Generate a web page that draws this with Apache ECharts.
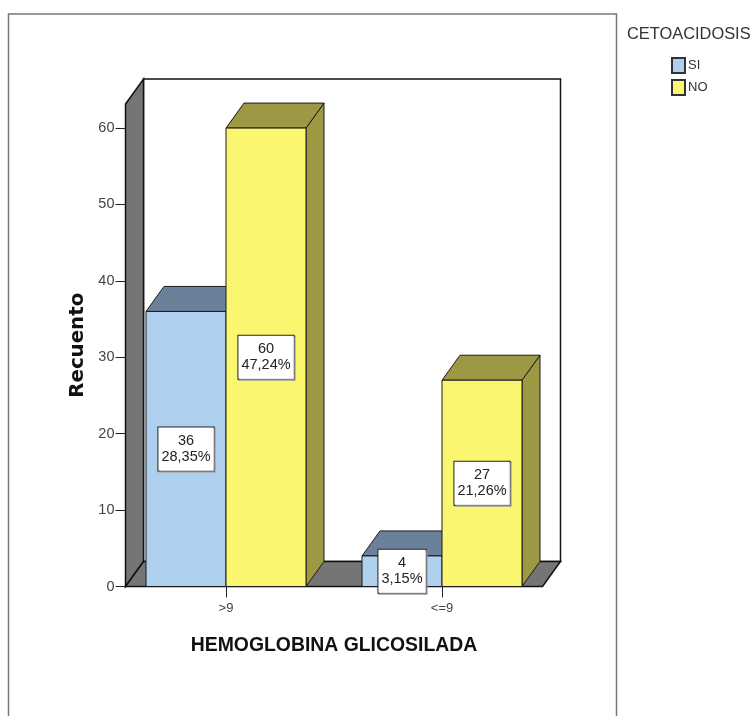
<!DOCTYPE html>
<html>
<head>
<meta charset="utf-8">
<style>
  html, body { margin: 0; padding: 0; background: #fff; overflow: hidden; }
  #chart { width: 755px; height: 716px; }
</style>
<script src="https://cdn.jsdelivr.net/npm/echarts@6/dist/echarts.min.js"></script>
</head>
<body>
<div id="chart"></div>
<script>
const categories = ['>9', '<=9'];
const siCounts = [36, 4];
const noCounts = [60, 27];
const siPercents = ['28,35%', '3,15%'];
const noPercents = ['47,24%', '21,26%'];
const yTicks = [0, 10, 20, 30, 40, 50, 60];

const FONT = '"Liberation Sans", Arial, sans-serif';
const DEPTH_X = 18;
const DEPTH_Y = -25;
const AXIS_INSET = 7.5;
const BAR_RATIO = 80 / 216;

const chart = echarts.init(document.getElementById('chart'));

function walls(params, api) {
  const g = params.coordSys;
  const left = g.x + AXIS_INSET;
  const right = g.x + g.width - AXIS_INSET;
  const bottom = g.y + g.height;
  const top = g.y;
  const line = { stroke: '#111', lineWidth: 1.5 };
  return {
    type: 'group',
    children: [
      {
        type: 'rect',
        shape: { x: left + DEPTH_X, y: top + DEPTH_Y, width: right - left, height: g.height },
        style: { fill: '#fff', ...line }
      },
      {
        type: 'polygon',
        shape: { points: [[left, top], [left + DEPTH_X, top + DEPTH_Y], [left + DEPTH_X, bottom + DEPTH_Y], [left, bottom]] },
        style: { fill: '#757575', ...line }
      },
      {
        type: 'polygon',
        shape: { points: [[left, bottom], [left + DEPTH_X, bottom + DEPTH_Y], [right + DEPTH_X, bottom + DEPTH_Y], [right, bottom]] },
        style: { fill: '#757575', ...line }
      }
    ]
  };
}

// side = -1 draws left of the tick, side = 1 right of it
function bar3d(side, percents, front, shade) {
  return (params, api) => {
    const top = api.coord([api.value(0), api.value(1)]);
    const base = api.coord([api.value(0), 0]);
    const w = api.size([1, 0])[0] * BAR_RATIO;
    const x0 = side < 0 ? top[0] - w : top[0];
    const x1 = x0 + w;
    const line = { stroke: '#1a1a1a', lineWidth: 1 };
    return {
      type: 'group',
      children: [
        {
          type: 'polygon',
          shape: { points: [[x1, base[1]], [x1 + DEPTH_X, base[1] + DEPTH_Y], [x1 + DEPTH_X, top[1] + DEPTH_Y], [x1, top[1]]] },
          style: { fill: shade, ...line }
        },
        {
          type: 'polygon',
          shape: { points: [[x0, top[1]], [x0 + DEPTH_X, top[1] + DEPTH_Y], [x1 + DEPTH_X, top[1] + DEPTH_Y], [x1, top[1]]] },
          style: { fill: shade, ...line }
        },
        {
          type: 'rect',
          shape: { x: x0, y: top[1], width: w, height: base[1] - top[1] },
          style: { fill: front, ...line }
        },
        {
          type: 'text',
          z2: 10,
          style: {
            x: (x0 + x1) / 2,
            y: (top[1] + base[1]) / 2,
            text: api.value(1) + '\n' + percents[params.dataIndex],
            align: 'center',
            verticalAlign: 'middle',
            font: '14.5px ' + FONT,
            lineHeight: 16,
            fill: '#222',
            backgroundColor: '#fff',
            borderColor: '#222',
            borderWidth: 1,
            padding: [6, 3, 5, 3],
            shadowColor: '#999',
            shadowOffsetX: 1,
            shadowOffsetY: 1
          }
        }
      ]
    };
  };
}

const option = {
  animation: false,
  textStyle: { fontFamily: FONT },
  graphic: [
    {
      type: 'rect',
      silent: true,
      z: -1,
      shape: { x: 8.5, y: 14, width: 608, height: 760 },
      style: { fill: '#fff', stroke: '#777', lineWidth: 1.5 }
    },
    {
      type: 'text',
      left: 627,
      top: 26,
      style: { text: 'CETOACIDOSIS', font: '16.4px ' + FONT, fill: '#333' }
    }
  ],
  legend: {
    orient: 'vertical',
    left: 671,
    top: 57,
    itemWidth: 13,
    itemHeight: 15,
    itemGap: 5,
    padding: 0,
    icon: 'rect',
    data: ['SI', 'NO'],
    selectedMode: false,
    textStyle: { fontSize: 13, color: '#333', padding: [0, 0, 0, -2] }
  },
  grid: { left: 118, top: 104, width: 432, height: 482.5 },
  xAxis: {
    type: 'category',
    data: categories,
    name: 'HEMOGLOBINA GLICOSILADA',
    nameLocation: 'middle',
    nameGap: 50,
    nameTextStyle: { fontSize: 19.4, fontWeight: 'bold', color: '#111' },
    axisLine: { show: false },
    axisTick: { show: true, alignWithLabel: true, length: 11, lineStyle: { color: '#222', width: 1 } },
    axisLabel: { fontSize: 13, color: '#444', margin: 15 }
  },
  yAxis: {
    type: 'value',
    min: 0,
    max: 63.15,
    offset: -AXIS_INSET,
    name: 'Recuento',
    nameLocation: 'middle',
    nameGap: 34,
    nameTextStyle: { fontFamily: '"DejaVu Sans", sans-serif', fontSize: 19.8, fontWeight: 'bold', color: '#111' },
    splitLine: { show: false },
    axisLine: { show: true, lineStyle: { color: '#111', width: 1.5 } },
    axisTick: { show: true, length: 10, customValues: yTicks, lineStyle: { color: '#222', width: 1 } },
    axisLabel: { fontSize: 14.5, color: '#444', margin: 11, customValues: yTicks }
  },
  series: [
    {
      type: 'custom',
      silent: true,
      clip: false,
      z: 1,
      renderItem: walls,
      data: [[0, 0]]
    },
    {
      name: 'SI',
      type: 'custom',
      clip: false,
      z: 2,
      itemStyle: { color: '#AECFEE', borderColor: '#333', borderWidth: 1 },
      renderItem: bar3d(-1, siPercents, '#AECFEE', '#6B8199'),
      data: siCounts.map((v, i) => [i, v])
    },
    {
      name: 'NO',
      type: 'custom',
      clip: false,
      z: 3,
      itemStyle: { color: '#FBF670', borderColor: '#333', borderWidth: 1 },
      renderItem: bar3d(1, noPercents, '#FBF670', '#9C9844'),
      data: noCounts.map((v, i) => [i, v])
    }
  ]
};

chart.setOption(option);
</script>
</body>
</html>
